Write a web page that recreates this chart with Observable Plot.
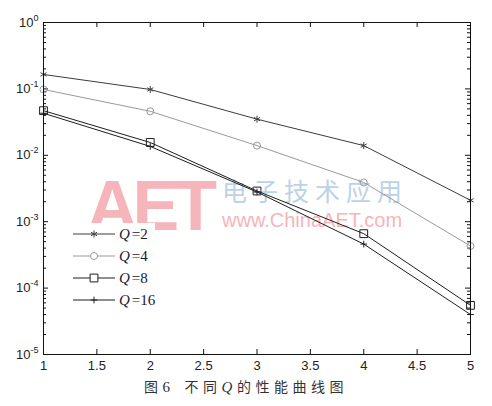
<!DOCTYPE html>
<html><head><meta charset="utf-8">
<script src="https://cdn.jsdelivr.net/npm/d3@7"></script>
<script src="https://cdn.jsdelivr.net/npm/@observablehq/plot@0.6"></script>
<style>
body{margin:0;background:#fff;}
#wrap{position:relative;width:492px;height:406px;overflow:hidden;background:#fff;}
#chart{position:absolute;left:0;top:0;z-index:1;}
.wm{position:absolute;z-index:0;line-height:1;white-space:nowrap;}
#legend{position:absolute;left:72px;top:223px;z-index:2;background:#fff;font-family:"Liberation Serif","Times New Roman",serif;font-size:15px;color:#1a1a33;}
#legend .row{height:22px;display:flex;align-items:center;}
#legend svg{display:block;margin-right:3px;}
#legend i{margin-right:2px;}
#caption{position:absolute;left:0;top:377px;width:492px;text-align:center;font-family:"Liberation Serif","Noto Sans CJK SC",serif;font-size:14px;color:#333;letter-spacing:4.5px;line-height:20px;}
#caption .lat{font-size:15px;}
</style>
</head><body>
<div id="wrap">
  <div class="wm" style="left:87px;top:171px;font-family:'Liberation Sans',Arial,sans-serif;font-weight:bold;font-size:70px;letter-spacing:-5px;color:#f6b5bb;">AET</div>
  <div class="wm" style="left:222px;top:178px;font-family:'Noto Sans CJK SC',sans-serif;font-size:25px;letter-spacing:6px;color:#bcd3e6;">电子技术应用</div>
  <div class="wm" style="left:222px;top:210px;font-family:'Liberation Sans',Arial,sans-serif;font-size:20px;color:#f6b5bb;">www.ChinaAET.com</div>
  <div id="chart"></div>
  <div id="legend"></div>
  <div id="caption">图<span class="lat">6</span><span style="display:inline-block;width:10px"></span>不同<i class="lat">Q</i>的性能曲线图</div>
</div>
<script>
// ---- data ----
const xValues = [1, 2, 3, 4, 5];
const seriesNames = ["Q=2", "Q=4", "Q=8", "Q=16"];
const q2  = [0.165, 0.098, 0.035, 0.014, 0.0021];
const q4  = [0.098, 0.046, 0.014, 0.0039, 0.00043];
const q8  = [0.047, 0.0156, 0.0029, 0.00066, 0.000055];
const q16 = [0.043, 0.0136, 0.0028, 0.00046, 0.00004];
const xTicks = [1, 1.5, 2, 2.5, 3, 3.5, 4, 4.5, 5];
const yMajor = [1, 1e-1, 1e-2, 1e-3, 1e-4, 1e-5];

const styles = [
  {values: q2,  color: "#3c3c3c", symbol: "asterisk", r: 3.3},
  {values: q4,  color: "#9a9a9a", symbol: "circle",   r: 3.5},
  {values: q8,  color: "#1e1e1e", symbol: "square",   r: 4.4},
  {values: q16, color: "#1e1e1e", symbol: "plus",     r: 2.3}
];
const series = seriesNames.map((name, i) => ({
  name, ...styles[i],
  rows: xValues.map((x, j) => ({x, y: styles[i].values[j], series: name}))
}));

const yMinor = [];
for (let e = -5; e < 0; e++) for (let m = 2; m <= 9; m++) yMinor.push(m * Math.pow(10, e));

const W = 492, H = 374;
const mL = 43, mR = 22, mT = 22, mB = 20;
const innerW = W - mL - mR, innerH = H - mT - mB;
const axisColor = "#111";

const marks = [
  Plot.tickX(xTicks, {x: d => d, insetTop: innerH - 5, stroke: axisColor}),
  Plot.tickX(xTicks, {x: d => d, insetBottom: innerH - 5, stroke: axisColor}),
  Plot.tickY(yMajor, {y: d => d, insetRight: innerW - 5, stroke: axisColor}),
  Plot.tickY(yMajor, {y: d => d, insetLeft: innerW - 5, stroke: axisColor}),
  Plot.tickY(yMinor, {y: d => d, insetRight: innerW - 3, stroke: axisColor}),
  Plot.tickY(yMinor, {y: d => d, insetLeft: innerW - 3, stroke: axisColor}),
  Plot.axisX({ticks: xTicks, tickSize: 0, tickPadding: 6, tickFormat: d => String(d), fill: "#222", label: null}),
  Plot.axisY({ticks: yMajor, tickSize: 0, tickPadding: 5, label: null,
    tickFormat: d => "10^" + Math.round(Math.log10(d)), fill: "#222"}),
];
for (const s of series) {
  marks.push(Plot.line(s.rows, {x: "x", y: "y", stroke: s.color, strokeWidth: 1}));
  marks.push(Plot.dot(s.rows, {x: "x", y: "y", symbol: s.symbol, r: s.r, stroke: s.color, fill: "none", strokeWidth: 1}));
}
marks.push(Plot.frame({stroke: axisColor, strokeWidth: 1}));

const chart = Plot.plot({
  width: W, height: H,
  marginLeft: mL, marginRight: mR, marginTop: mT, marginBottom: mB,
  style: {background: "transparent", fontFamily: "'Liberation Sans', Arial, sans-serif", fontSize: "13px", color: "#222"},
  x: {domain: [1, 5], label: null},
  y: {type: "log", domain: [1e-5, 1], label: null},
  marks
});
document.getElementById("chart").appendChild(chart);

// superscript exponents on y labels
chart.querySelectorAll("text").forEach(t => {
  const s = t.textContent;
  if (/^10\^-?\d+$/.test(s)) {
    const exp = s.split("^")[1];
    t.textContent = "10";
    const ts = document.createElementNS("http://www.w3.org/2000/svg", "tspan");
    ts.setAttribute("dy", "-6");
    ts.setAttribute("font-size", "9");
    ts.textContent = exp;
    t.appendChild(ts);
  }
});

// legend
const legend = document.getElementById("legend");
for (const s of series) {
  const row = document.createElement("div");
  row.className = "row";
  const svg = d3.create("svg").attr("width", 44).attr("height", 14);
  svg.append("line").attr("x1", 1).attr("x2", 43).attr("y1", 7).attr("y2", 7).attr("stroke", s.color);
  const sym = {asterisk: d3.symbolAsterisk, circle: d3.symbolCircle, square: d3.symbolSquare, plus: d3.symbolPlus}[s.symbol];
  svg.append("path").attr("transform", "translate(22,7)")
    .attr("d", d3.symbol(sym, Math.PI * s.r * s.r)())
    .attr("fill", s.symbol === "asterisk" || s.symbol === "plus" ? "none" : "#fff")
    .attr("stroke", s.color);
  row.appendChild(svg.node());
  const label = document.createElement("span");
  const [q, v] = s.name.split("=");
  label.innerHTML = `<i>${q}</i>=${v}`;
  row.appendChild(label);
  legend.appendChild(row);
}
</script>
</body></html>
